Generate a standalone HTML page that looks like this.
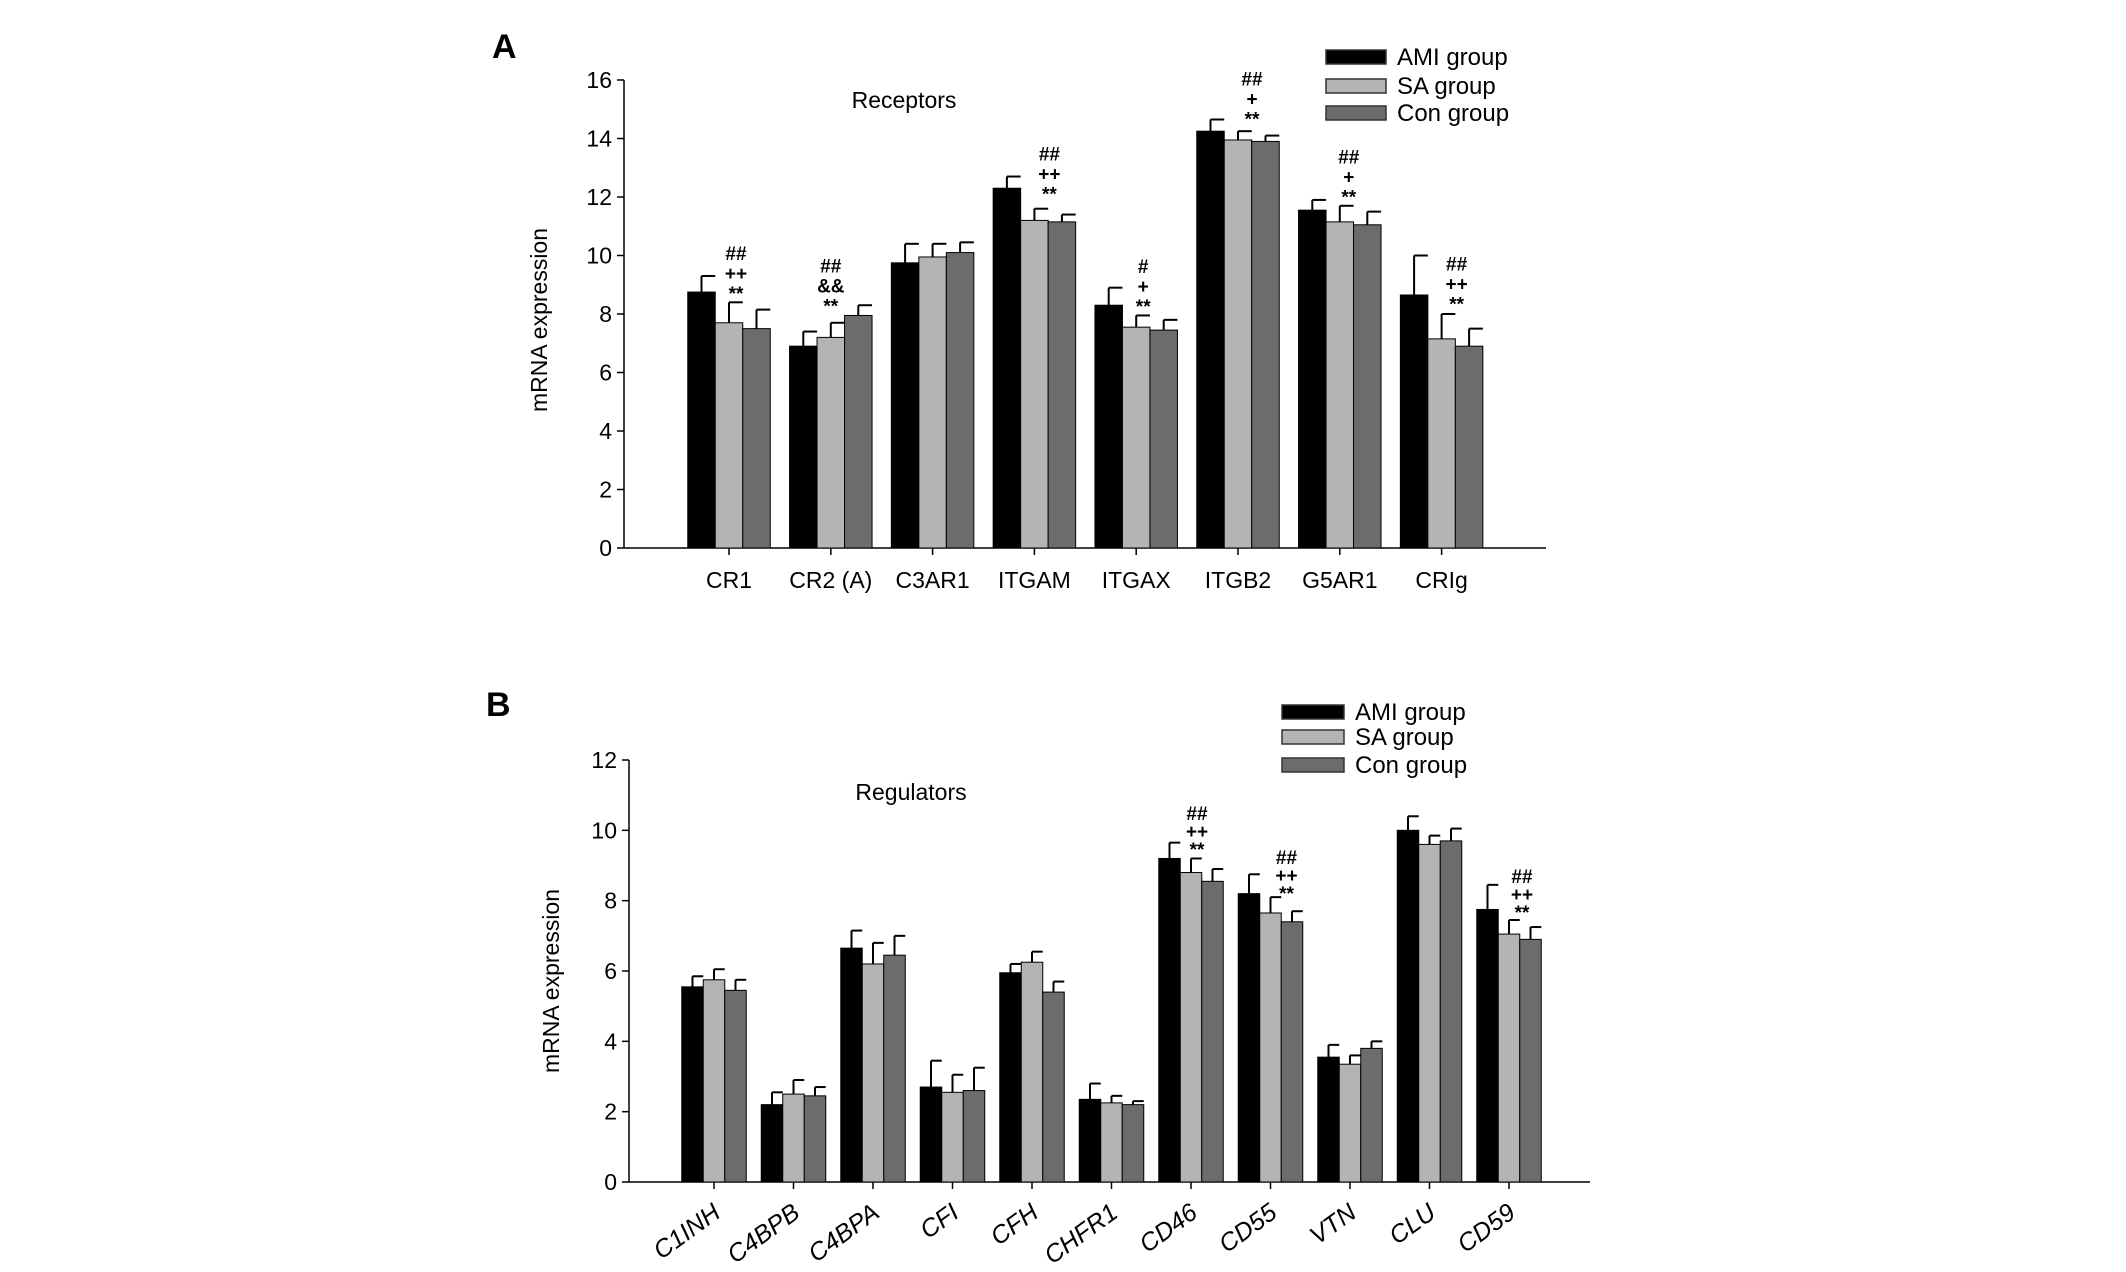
<!DOCTYPE html>
<html><head><meta charset="utf-8"><style>
html,body{margin:0;padding:0;background:#fff;}
svg text{font-family:"Liberation Sans",sans-serif;}
</style></head><body>
<svg id="fig" width="2126" height="1267" viewBox="0 0 2126 1267" xmlns="http://www.w3.org/2000/svg">
<rect width="2126" height="1267" fill="#fff"/>
</svg>
<script>
const catsA=["CR1","CR2 (A)","C3AR1","ITGAM","ITGAX","ITGB2","G5AR1","CRIg"];
const amiA=[8.75,6.9,9.75,12.3,8.3,14.25,11.55,8.65];
const saA=[7.7,7.2,9.95,11.2,7.55,13.95,11.15,7.15];
const conA=[7.5,7.95,10.1,11.15,7.45,13.9,11.05,6.9];
const amiAErr=[0.55,0.5,0.65,0.4,0.6,0.4,0.35,1.35];
const saAErr=[0.7,0.5,0.45,0.4,0.4,0.3,0.55,0.85];
const conAErr=[0.65,0.35,0.35,0.25,0.35,0.2,0.45,0.6];
const ticksA=[0,2,4,6,8,10,12,14,16];
const annA=[["##","++","**"],["##","&&","**"],null,["##","++","**"],["#","+","**"],["##","+","**"],["##","+","**"],["##","++","**"]];
const annAPos=[8.75,8.33,0,12.15,8.3,14.72,12.05,8.4];
const annADx=[7,0,0,15,7,14,9,15];

const catsB=["C1INH","C4BPB","C4BPA","CFI","CFH","CHFR1","CD46","CD55","VTN","CLU","CD59"];
const amiB=[5.55,2.2,6.65,2.7,5.95,2.35,9.2,8.2,3.55,10.0,7.75];
const saB=[5.75,2.5,6.2,2.55,6.25,2.25,8.8,7.65,3.35,9.6,7.05];
const conB=[5.45,2.45,6.45,2.6,5.4,2.2,8.55,7.4,3.8,9.7,6.9];
const amiBErr=[0.3,0.35,0.5,0.75,0.25,0.45,0.45,0.55,0.35,0.4,0.7];
const saBErr=[0.3,0.4,0.6,0.5,0.3,0.2,0.4,0.45,0.25,0.25,0.4];
const conBErr=[0.3,0.25,0.55,0.65,0.3,0.1,0.35,0.3,0.2,0.35,0.35];
const ticksB=[0,2,4,6,8,10,12];
const annB=[null,null,null,null,null,null,["##","++","**"],["##","++","**"],null,null,["##","++","**"]];
const annBPos=[0,0,0,0,0,0,9.5,8.25,0,0,7.7];
const annBDx=[0,0,0,0,0,0,6,16,0,0,13];

const NS="http://www.w3.org/2000/svg";
const svg=document.getElementById('fig');
function mk(tag,attrs,parent){const e=document.createElementNS(NS,tag);for(const k in attrs)e.setAttribute(k,attrs[k]);(parent||svg).appendChild(e);return e;}
const colors=["#000000","#b4b4b4","#6c6c6c"];
const names=["AMI group","SA group","Con group"];

function panel(o){
  const g=mk('g',{});
  
  
  const y=v=>o.y0-(v/o.max)*(o.y0-o.yTop);
  const xc=i=>o.x1+i*o.step;
  const ax=mk('line',{x1:o.axX,y1:o.yTop,x2:o.axX,y2:o.y0,stroke:'#000','stroke-width':1.5},g);
  
  
  const xa=mk('line',{x1:o.axX,y1:o.y0,x2:o.axEnd,y2:o.y0,stroke:'#000','stroke-width':1.5},g);
  
  
  o.ticks.forEach(t=>{
    mk('line',{x1:o.axX-7,y1:y(t),x2:o.axX,y2:y(t),stroke:'#000','stroke-width':1.5},g);
    const tx=mk('text',{x:o.axX-12,y:y(t)+8,'text-anchor':'end','font-size':23},g);
    tx.textContent=t;
    
    
  });
  const series=[o.ami,o.sa,o.con], errs=[o.amiErr,o.saErr,o.conErr];
  o.cats.forEach((c,i)=>{
    const cx=xc(i);
    mk('line',{x1:cx,y1:o.y0,x2:cx,y2:o.y0+7,stroke:'#000','stroke-width':1.5},g);
    series.forEach((s,j)=>{
      const bx=cx-1.5*o.bw+j*o.bw;
      const top=y(s[i]);
      const r=mk('rect',{x:bx,y:top,width:o.bw,height:o.y0-top,fill:colors[j],stroke:'#000','stroke-width':1},g);
      
      
      const ex=bx+o.bw/2, et=y(s[i]+errs[j][i]);
      mk('line',{x1:ex,y1:top,x2:ex,y2:et,stroke:'#000','stroke-width':2},g);
      mk('line',{x1:ex,y1:et,x2:ex+o.bw/2,y2:et,stroke:'#000','stroke-width':2},g);
    });
    let lbl;
    if(o.rot){
      lbl=mk('text',{x:cx+8,y:o.y0+34,'text-anchor':'end','font-size':25,'font-style':'italic',transform:`rotate(-36 ${cx+8} ${o.y0+34})`},g);
    } else {
      lbl=mk('text',{x:cx,y:o.y0+40,'text-anchor':'middle','font-size':23},g);
    }
    lbl.textContent=c;
    
    
    if(o.ann[i]){
      const by=y(o.annPos[i]);
      o.ann[i].forEach((a,k)=>{
        const t=mk('text',{x:cx+o.annDx[i],y:by+8-(2-k)*o.annSp,'text-anchor':'middle','font-size':19,'font-weight':'bold'},g);
        t.textContent=a;
        
        
      });
    }
  });
  names.forEach((n,j)=>{
    const ly=o.legY[j];
    const lr=mk('rect',{x:o.legX,y:ly-7,width:o.legW,height:14,fill:colors[j],stroke:'#333','stroke-width':1.5},g);
    
    
    const lt=mk('text',{x:o.legX+o.legW+11,y:ly+8,'font-size':24},g);
    lt.textContent=n;
    
    
  });
  const ttl=mk('text',{x:o.titleX,y:o.titleY,'text-anchor':'middle','font-size':23},g);
  ttl.textContent=o.title;
  
  
  const yt=mk('text',{x:o.ytX,y:o.ytY,'text-anchor':'middle','font-size':23,transform:`rotate(-90 ${o.ytX} ${o.ytY})`},g);
  yt.textContent='mRNA expression';
  
  
  const pl=mk('text',{x:o.plX,y:o.plY,'font-size':34,'font-weight':'bold','font-family':'Liberation Serif, serif'},g);
  pl.textContent=o.letter;
  
  
}

panel({name:'panel-a-receptors',cats:catsA,ami:amiA,sa:saA,con:conA,amiErr:amiAErr,saErr:saAErr,conErr:conAErr,
  ticks:ticksA,max:16,y0:548,yTop:80,axX:624,axEnd:1546,x1:729,step:101.8,bw:27.5,rot:false,
  ann:annA,annPos:annAPos,annDx:annADx,annSp:20,
  legX:1326,legW:60,legY:[57,86,113],title:'Receptors',titleX:904,titleY:108,ytX:547,ytY:320,letter:'A',plX:492,plY:58});
panel({name:'panel-b-regulators',cats:catsB,ami:amiB,sa:saB,con:conB,amiErr:amiBErr,saErr:saBErr,conErr:conBErr,
  ticks:ticksB,max:12,y0:1182,yTop:760,axX:629,axEnd:1590,x1:714,step:79.5,bw:21.5,rot:true,
  ann:annB,annPos:annBPos,annDx:annBDx,annSp:18,
  legX:1282,legW:62,legY:[712,737,765],title:'Regulators',titleX:911,titleY:800,ytX:559,ytY:981,letter:'B',plX:486,plY:716});
</script>
</body></html>
